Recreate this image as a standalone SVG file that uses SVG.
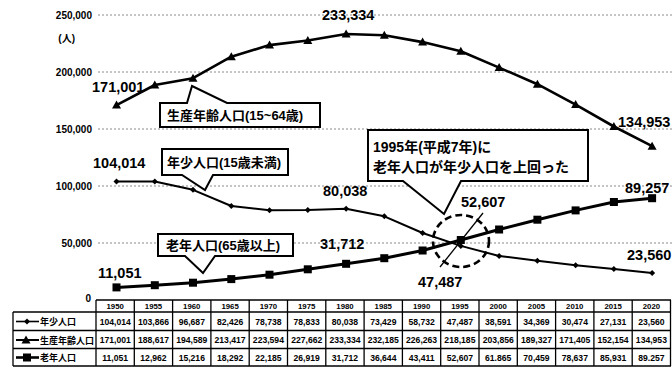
<svg xmlns="http://www.w3.org/2000/svg" width="672" height="367" viewBox="0 0 672 367">
<style>
  .grid { stroke:#8a8a8a; stroke-width:1; stroke-dasharray:2 2; fill:none; }
  .ax { font-family:"Liberation Sans", Arial, sans-serif; font-weight:bold; font-size:10px; fill:#000; text-anchor:end; }
  .val { font-family:"Liberation Sans", Arial, sans-serif; font-weight:bold; font-size:14.5px; fill:#000; }
  .cj { font-family:"Liberation Sans", "Noto Sans CJK JP", sans-serif; font-weight:bold; fill:#000; }
  .box { fill:#fff; stroke:#000; stroke-width:2; stroke-linejoin:miter; }
  .ser { fill:none; stroke:#000; stroke-linejoin:round; }
  .tb { stroke:#000; stroke-width:1.3; fill:none; }
  .th { font-family:"Liberation Sans", Arial, sans-serif; font-weight:bold; font-size:7.8px; fill:#000; text-anchor:middle; }
  .td { font-family:"Liberation Sans", Arial, sans-serif; font-weight:bold; font-size:8.6px; fill:#000; text-anchor:middle; }
  .lg { font-family:"Noto Sans CJK JP", sans-serif; font-weight:bold; font-size:9px; fill:#000; }
</style>
<defs>
  <marker id="tri" markerUnits="userSpaceOnUse" markerWidth="10" markerHeight="10" refX="5" refY="5.5" viewBox="0 0 10 10">
    <path d="M0.5,9 L5,1 L9.5,9 Z" fill="#000"/>
  </marker>
  <marker id="sq" markerUnits="userSpaceOnUse" markerWidth="10" markerHeight="10" refX="5" refY="5" viewBox="0 0 10 10">
    <rect x="1" y="1" width="8" height="8" fill="#000"/>
  </marker>
  <marker id="dia" markerUnits="userSpaceOnUse" markerWidth="10" markerHeight="10" refX="5" refY="5" viewBox="0 0 10 10">
    <path d="M5,2 L8,5 L5,8 L2,5 Z" fill="#000"/>
  </marker>
</defs>
<rect width="672" height="367" fill="#fff"/>

<g id="gridlines">
  <line class="grid" x1="98" y1="15" x2="672" y2="15"/>
  <line class="grid" x1="98" y1="72" x2="672" y2="72"/>
  <line class="grid" x1="98" y1="129" x2="672" y2="129"/>
  <line class="grid" x1="98" y1="186" x2="672" y2="186"/>
  <line class="grid" x1="98" y1="243" x2="672" y2="243"/>
</g>

<g id="axis-labels">
  <text class="ax" x="92" y="18.5">250,000</text>
  <text class="ax" x="75" y="42" style="font-family:'Liberation Sans','Noto Sans CJK JP',sans-serif">(人)</text>
  <text class="ax" x="92" y="75.5">200,000</text>
  <text class="ax" x="92" y="132.5">150,000</text>
  <text class="ax" x="92" y="189.5">100,000</text>
  <text class="ax" x="92" y="246.5">50,000</text>
  <text class="ax" x="91" y="302">0</text>
</g>

<g id="connectors">
  <polyline id="series-working" class="ser" stroke-width="2.6" marker-start="url(#tri)" marker-mid="url(#tri)" marker-end="url(#tri)"
    points="116.5,105.1 154.8,85.0 193.0,78.2 231.3,56.7 269.5,45.1 307.8,40.5 346.1,34.0 384.3,35.3 422.6,42.1 460.8,51.3 499.1,67.6 537.4,84.2 575.6,104.6 613.9,126.5 652.1,146.2"/>
  <polyline id="series-youth" class="ser" stroke-width="2" marker-start="url(#dia)" marker-mid="url(#dia)" marker-end="url(#dia)"
    points="116.5,181.4 154.8,181.6 193.0,189.8 231.3,206.0 269.5,210.2 307.8,210.1 346.1,208.8 384.3,216.3 422.6,233.0 460.8,245.9 499.1,256.0 537.4,260.8 575.6,265.3 613.9,269.1 652.1,273.1"/>
  <polyline id="series-elderly" class="ser" stroke-width="3" marker-start="url(#sq)" marker-mid="url(#sq)" marker-end="url(#sq)"
    points="116.5,287.4 154.8,285.2 193.0,282.7 231.3,279.1 269.5,274.7 307.8,269.3 346.1,263.8 384.3,258.2 422.6,250.5 460.8,240.0 499.1,229.5 537.4,219.7 575.6,210.4 613.9,202.0 652.1,198.2"/>
  <ellipse cx="461" cy="241" rx="28" ry="26" fill="none" stroke="#000" stroke-width="2.6" stroke-dasharray="7 4"/>
  <line x1="440" y1="267" x2="483" y2="213" stroke="#000" stroke-width="1.3"/>
</g>

<g id="value-labels">
  <text class="val" x="322" y="20">233,334</text>
  <text class="val" x="92" y="92">171,001</text>
  <text class="val" x="93" y="168">104,014</text>
  <text class="val" x="323" y="196">80,038</text>
  <text class="val" x="320" y="249">31,712</text>
  <text class="val" x="98" y="278">11,051</text>
  <text class="val" x="461" y="207">52,607</text>
  <text class="val" x="418" y="287">47,487</text>
  <text class="val" x="618" y="127">134,953</text>
  <text class="val" x="625" y="193">89,257</text>
  <text class="val" x="627" y="260">23,560</text>
</g>

<g id="callout-working">
  <path class="box" d="M160,103 L187,103 L192,86 L227,103 L320,103 L320,127 L160,127 Z"/>
  <text class="cj" x="167" y="120" font-size="13">生産年齢人口(15~64歳)</text>
</g>
<g id="callout-youth">
  <path class="box" d="M162,149 L288,149 L288,175 L213,175 L205,190 L182,175 L162,175 Z"/>
  <text class="cj" x="167" y="167" font-size="13">年少人口(15歳未満)</text>
</g>
<g id="callout-elderly">
  <path class="box" d="M158,234 L293,234 L293,256 L215,256 L203,273 L185,256 L158,256 Z"/>
  <text class="cj" x="166" y="250" font-size="13">老年人口(65歳以上)</text>
</g>
<g id="callout-1995">
  <path class="box" d="M368,130 L588,130 L588,181 L461,181 L444,214 L403,181 L368,181 Z"/>
  <text class="cj" x="373" y="152" font-size="14">1995年(平成7年)に</text>
  <text class="cj" x="373" y="172" font-size="14">老年人口が年少人口を上回った</text>
</g>

<g id="data-table">
  <g class="tb">
    <line x1="96" y1="300" x2="671" y2="300"/>
    <line x1="13" y1="312" x2="671" y2="312"/>
    <line x1="13" y1="330.5" x2="671" y2="330.5"/>
    <line x1="13" y1="348.5" x2="671" y2="348.5"/>
    <line x1="13" y1="366" x2="671" y2="366"/>
    <line x1="13" y1="312" x2="13" y2="366"/>
    <line x1="96" y1="300" x2="96" y2="366"/>
    <line x1="134.3" y1="300" x2="134.3" y2="366"/>
    <line x1="172.6" y1="300" x2="172.6" y2="366"/>
    <line x1="210.9" y1="300" x2="210.9" y2="366"/>
    <line x1="249.2" y1="300" x2="249.2" y2="366"/>
    <line x1="287.5" y1="300" x2="287.5" y2="366"/>
    <line x1="325.8" y1="300" x2="325.8" y2="366"/>
    <line x1="364.1" y1="300" x2="364.1" y2="366"/>
    <line x1="402.4" y1="300" x2="402.4" y2="366"/>
    <line x1="440.7" y1="300" x2="440.7" y2="366"/>
    <line x1="479" y1="300" x2="479" y2="366"/>
    <line x1="517.3" y1="300" x2="517.3" y2="366"/>
    <line x1="555.6" y1="300" x2="555.6" y2="366"/>
    <line x1="593.9" y1="300" x2="593.9" y2="366"/>
    <line x1="632.2" y1="300" x2="632.2" y2="366"/>
    <line x1="670.5" y1="300" x2="670.5" y2="366"/>
  </g>
  <g id="table-header">
    <text class="th" x="115.2" y="309">1950</text>
    <text class="th" x="153.5" y="309">1955</text>
    <text class="th" x="191.8" y="309">1960</text>
    <text class="th" x="230.1" y="309">1965</text>
    <text class="th" x="268.4" y="309">1970</text>
    <text class="th" x="306.7" y="309">1975</text>
    <text class="th" x="345" y="309">1980</text>
    <text class="th" x="383.3" y="309">1985</text>
    <text class="th" x="421.6" y="309">1990</text>
    <text class="th" x="459.9" y="309">1995</text>
    <text class="th" x="498.2" y="309">2000</text>
    <text class="th" x="536.5" y="309">2005</text>
    <text class="th" x="574.8" y="309">2010</text>
    <text class="th" x="613.1" y="309">2015</text>
    <text class="th" x="651.4" y="309">2020</text>
  </g>
  <g id="legend">
    <polyline points="16,321.5 27,321.5 39,321.5" fill="none" stroke="#000" stroke-width="1.6" marker-mid="url(#dia)"/>
    <polyline points="16,340 26,340 39,340" fill="none" stroke="#000" stroke-width="2" marker-mid="url(#tri)"/>
    <polyline points="16,357.5 27,357.5 39,357.5" fill="none" stroke="#000" stroke-width="2.6" marker-mid="url(#sq)"/>
    <text class="lg" x="40" y="325">年少人口</text>
    <text class="lg" x="40" y="343.5">生産年齢人口</text>
    <text class="lg" x="40" y="361">老年人口</text>
  </g>
  <g id="row-youth">
    <text class="td" x="115.2" y="324.5">104,014</text>
    <text class="td" x="153.5" y="324.5">103,866</text>
    <text class="td" x="191.8" y="324.5">96,687</text>
    <text class="td" x="230.1" y="324.5">82,426</text>
    <text class="td" x="268.4" y="324.5">78,738</text>
    <text class="td" x="306.7" y="324.5">78,833</text>
    <text class="td" x="345" y="324.5">80,038</text>
    <text class="td" x="383.3" y="324.5">73,429</text>
    <text class="td" x="421.6" y="324.5">58,732</text>
    <text class="td" x="459.9" y="324.5">47,487</text>
    <text class="td" x="498.2" y="324.5">38,591</text>
    <text class="td" x="536.5" y="324.5">34,369</text>
    <text class="td" x="574.8" y="324.5">30,474</text>
    <text class="td" x="613.1" y="324.5">27,131</text>
    <text class="td" x="651.4" y="324.5">23,560</text>
  </g>
  <g id="row-working">
    <text class="td" x="115.2" y="342.8">171,001</text>
    <text class="td" x="153.5" y="342.8">188,617</text>
    <text class="td" x="191.8" y="342.8">194,589</text>
    <text class="td" x="230.1" y="342.8">213,417</text>
    <text class="td" x="268.4" y="342.8">223,594</text>
    <text class="td" x="306.7" y="342.8">227,662</text>
    <text class="td" x="345" y="342.8">233,334</text>
    <text class="td" x="383.3" y="342.8">232,185</text>
    <text class="td" x="421.6" y="342.8">226,263</text>
    <text class="td" x="459.9" y="342.8">218,185</text>
    <text class="td" x="498.2" y="342.8">203,856</text>
    <text class="td" x="536.5" y="342.8">189,327</text>
    <text class="td" x="574.8" y="342.8">171,405</text>
    <text class="td" x="613.1" y="342.8">152,154</text>
    <text class="td" x="651.4" y="342.8">134,953</text>
  </g>
  <g id="row-elderly">
    <text class="td" x="115.2" y="360.5">11,051</text>
    <text class="td" x="153.5" y="360.5">12,962</text>
    <text class="td" x="191.8" y="360.5">15,216</text>
    <text class="td" x="230.1" y="360.5">18,292</text>
    <text class="td" x="268.4" y="360.5">22,185</text>
    <text class="td" x="306.7" y="360.5">26,919</text>
    <text class="td" x="345" y="360.5">31,712</text>
    <text class="td" x="383.3" y="360.5">36,644</text>
    <text class="td" x="421.6" y="360.5">43,411</text>
    <text class="td" x="459.9" y="360.5">52,607</text>
    <text class="td" x="498.2" y="360.5">61.865</text>
    <text class="td" x="536.5" y="360.5">70,459</text>
    <text class="td" x="574.8" y="360.5">78,637</text>
    <text class="td" x="613.1" y="360.5">85,931</text>
    <text class="td" x="651.4" y="360.5">89.257</text>
  </g>
</g>
</svg>
